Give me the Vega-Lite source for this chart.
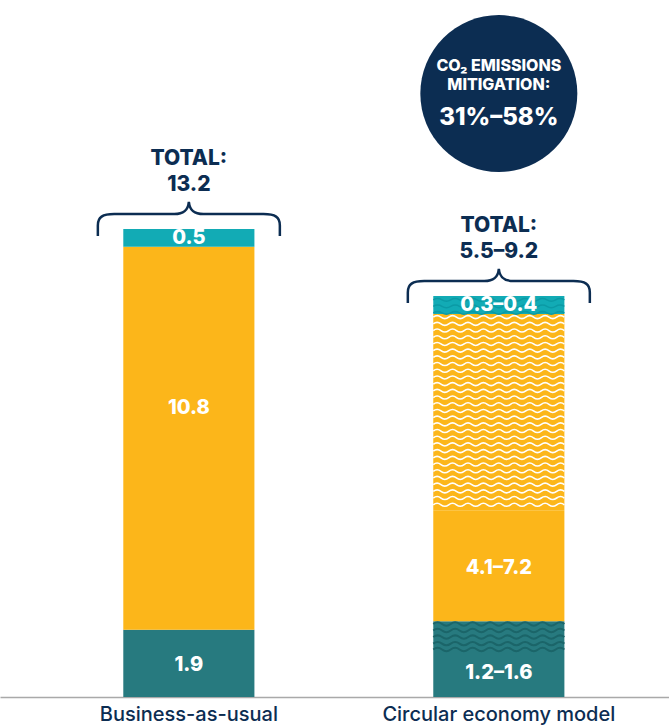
{
  "$schema": "https://vega.github.io/schema/vega-lite/v6.json",
  "width": 669,
  "height": 697,
  "autosize": {"type": "none"},
  "padding": {"left": 0, "top": 0, "right": 0, "bottom": 29},
  "background": "white",
  "config": {"view": {"stroke": null}, "font": "Inter"},
  "datasets": {
    "segments": [
      {"bar": "Business-as-usual", "kind": "dark", "y0": 0, "y1": 1.9, "label": "1.9", "labelAt": 0.9, "wave": null},
      {"bar": "Business-as-usual", "kind": "yellow", "y0": 1.9, "y1": 12.7, "label": "10.8", "labelAt": 8.15, "wave": null},
      {"bar": "Business-as-usual", "kind": "light", "y0": 12.7, "y1": 13.2, "label": "0.5", "labelAt": 12.95, "wave": null},
      {"bar": "Circular economy model", "kind": "dark", "y0": 0, "y1": 1.24, "label": "1.2–1.6", "labelAt": 0.68, "wave": null},
      {"bar": "Circular economy model", "kind": "dark", "y0": 1.24, "y1": 2.14, "label": null, "labelAt": null, "wave": "dark"},
      {"bar": "Circular economy model", "kind": "yellow", "y0": 2.14, "y1": 5.27, "label": "4.1–7.2", "labelAt": 3.64, "wave": null},
      {"bar": "Circular economy model", "kind": "yellow", "y0": 5.27, "y1": 10.8, "label": null, "labelAt": null, "wave": "yellow"},
      {"bar": "Circular economy model", "kind": "light", "y0": 10.8, "y1": 11.31, "label": "0.3–0.4", "labelAt": 11.06, "wave": "light"}
    ],
    "totals": [
      {"bar": "Business-as-usual", "top": 13.2, "total": "13.2"},
      {"bar": "Circular economy model", "top": 11.31, "total": "5.5–9.2"}
    ],
    "mitigation": [
      {"bar": "Circular economy model", "pos": 17.02, "heading": ["CO₂ EMISSIONS", "MITIGATION:"], "value": "31%–58%"}
    ]
  },
  "encoding": {
    "x": {
      "field": "bar",
      "type": "nominal",
      "sort": ["Business-as-usual", "Circular economy model"],
      "scale": {"domain": ["Business-as-usual", "Circular economy model"], "paddingInner": 0.577, "paddingOuter": 0.3676, "align": 0.541},
      "axis": {
        "title": null,
        "labelAngle": 0,
        "ticks": false,
        "domainColor": "#a9a9a9",
        "domainWidth": 1.5,
        "labelFont": "Inter",
        "labelFontSize": 20,
        "labelFontWeight": 500,
        "labelColor": "#0c2d52",
        "labelPadding": 7,
        "labelLimit": 400
      }
    }
  },
  "layer": [
    {
      "data": {"name": "segments"},
      "mark": {"type": "bar"},
      "encoding": {
        "y": {"field": "y1", "type": "quantitative", "scale": {"domain": [0, 19.66], "nice": false, "zero": true}, "axis": null},
        "y2": {"field": "y0"},
        "color": {"field": "kind", "type": "nominal", "scale": {"domain": ["dark", "yellow", "light"], "range": ["#277a7f", "#fcb61a", "#12abb5"]}, "legend": null}
      }
    },
    {
      "data": {"name": "segments"},
      "transform": [{"filter": "datum.wave == 'yellow'"}, {"calculate": "(datum.y0 + datum.y1) / 2", "as": "mid"}],
      "mark": {
        "type": "point",
        "filled": false,
        "opacity": 1,
        "stroke": "#ffffff",
        "strokeWidth": 1.6,
        "size": 17187,
        "shape": "M-1,-1.449 Q-0.9412,-1.495 -0.8824,-1.449 T-0.7647,-1.449 T-0.6471,-1.449 T-0.5294,-1.449 T-0.4118,-1.449 T-0.2941,-1.449 T-0.1765,-1.449 T-0.0588,-1.449 T0.0588,-1.449 T0.1765,-1.449 T0.2941,-1.449 T0.4118,-1.449 T0.5294,-1.449 T0.6471,-1.449 T0.7647,-1.449 T0.8824,-1.449 T1,-1.449 M-1,-1.347 Q-0.9412,-1.393 -0.8824,-1.347 T-0.7647,-1.347 T-0.6471,-1.347 T-0.5294,-1.347 T-0.4118,-1.347 T-0.2941,-1.347 T-0.1765,-1.347 T-0.0588,-1.347 T0.0588,-1.347 T0.1765,-1.347 T0.2941,-1.347 T0.4118,-1.347 T0.5294,-1.347 T0.6471,-1.347 T0.7647,-1.347 T0.8824,-1.347 T1,-1.347 M-1,-1.245 Q-0.9412,-1.291 -0.8824,-1.245 T-0.7647,-1.245 T-0.6471,-1.245 T-0.5294,-1.245 T-0.4118,-1.245 T-0.2941,-1.245 T-0.1765,-1.245 T-0.0588,-1.245 T0.0588,-1.245 T0.1765,-1.245 T0.2941,-1.245 T0.4118,-1.245 T0.5294,-1.245 T0.6471,-1.245 T0.7647,-1.245 T0.8824,-1.245 T1,-1.245 M-1,-1.142 Q-0.9412,-1.188 -0.8824,-1.142 T-0.7647,-1.142 T-0.6471,-1.142 T-0.5294,-1.142 T-0.4118,-1.142 T-0.2941,-1.142 T-0.1765,-1.142 T-0.0588,-1.142 T0.0588,-1.142 T0.1765,-1.142 T0.2941,-1.142 T0.4118,-1.142 T0.5294,-1.142 T0.6471,-1.142 T0.7647,-1.142 T0.8824,-1.142 T1,-1.142 M-1,-1.040 Q-0.9412,-1.086 -0.8824,-1.040 T-0.7647,-1.040 T-0.6471,-1.040 T-0.5294,-1.040 T-0.4118,-1.040 T-0.2941,-1.040 T-0.1765,-1.040 T-0.0588,-1.040 T0.0588,-1.040 T0.1765,-1.040 T0.2941,-1.040 T0.4118,-1.040 T0.5294,-1.040 T0.6471,-1.040 T0.7647,-1.040 T0.8824,-1.040 T1,-1.040 M-1,-0.938 Q-0.9412,-0.984 -0.8824,-0.938 T-0.7647,-0.938 T-0.6471,-0.938 T-0.5294,-0.938 T-0.4118,-0.938 T-0.2941,-0.938 T-0.1765,-0.938 T-0.0588,-0.938 T0.0588,-0.938 T0.1765,-0.938 T0.2941,-0.938 T0.4118,-0.938 T0.5294,-0.938 T0.6471,-0.938 T0.7647,-0.938 T0.8824,-0.938 T1,-0.938 M-1,-0.836 Q-0.9412,-0.882 -0.8824,-0.836 T-0.7647,-0.836 T-0.6471,-0.836 T-0.5294,-0.836 T-0.4118,-0.836 T-0.2941,-0.836 T-0.1765,-0.836 T-0.0588,-0.836 T0.0588,-0.836 T0.1765,-0.836 T0.2941,-0.836 T0.4118,-0.836 T0.5294,-0.836 T0.6471,-0.836 T0.7647,-0.836 T0.8824,-0.836 T1,-0.836 M-1,-0.734 Q-0.9412,-0.780 -0.8824,-0.734 T-0.7647,-0.734 T-0.6471,-0.734 T-0.5294,-0.734 T-0.4118,-0.734 T-0.2941,-0.734 T-0.1765,-0.734 T-0.0588,-0.734 T0.0588,-0.734 T0.1765,-0.734 T0.2941,-0.734 T0.4118,-0.734 T0.5294,-0.734 T0.6471,-0.734 T0.7647,-0.734 T0.8824,-0.734 T1,-0.734 M-1,-0.631 Q-0.9412,-0.677 -0.8824,-0.631 T-0.7647,-0.631 T-0.6471,-0.631 T-0.5294,-0.631 T-0.4118,-0.631 T-0.2941,-0.631 T-0.1765,-0.631 T-0.0588,-0.631 T0.0588,-0.631 T0.1765,-0.631 T0.2941,-0.631 T0.4118,-0.631 T0.5294,-0.631 T0.6471,-0.631 T0.7647,-0.631 T0.8824,-0.631 T1,-0.631 M-1,-0.529 Q-0.9412,-0.575 -0.8824,-0.529 T-0.7647,-0.529 T-0.6471,-0.529 T-0.5294,-0.529 T-0.4118,-0.529 T-0.2941,-0.529 T-0.1765,-0.529 T-0.0588,-0.529 T0.0588,-0.529 T0.1765,-0.529 T0.2941,-0.529 T0.4118,-0.529 T0.5294,-0.529 T0.6471,-0.529 T0.7647,-0.529 T0.8824,-0.529 T1,-0.529 M-1,-0.427 Q-0.9412,-0.473 -0.8824,-0.427 T-0.7647,-0.427 T-0.6471,-0.427 T-0.5294,-0.427 T-0.4118,-0.427 T-0.2941,-0.427 T-0.1765,-0.427 T-0.0588,-0.427 T0.0588,-0.427 T0.1765,-0.427 T0.2941,-0.427 T0.4118,-0.427 T0.5294,-0.427 T0.6471,-0.427 T0.7647,-0.427 T0.8824,-0.427 T1,-0.427 M-1,-0.325 Q-0.9412,-0.371 -0.8824,-0.325 T-0.7647,-0.325 T-0.6471,-0.325 T-0.5294,-0.325 T-0.4118,-0.325 T-0.2941,-0.325 T-0.1765,-0.325 T-0.0588,-0.325 T0.0588,-0.325 T0.1765,-0.325 T0.2941,-0.325 T0.4118,-0.325 T0.5294,-0.325 T0.6471,-0.325 T0.7647,-0.325 T0.8824,-0.325 T1,-0.325 M-1,-0.223 Q-0.9412,-0.269 -0.8824,-0.223 T-0.7647,-0.223 T-0.6471,-0.223 T-0.5294,-0.223 T-0.4118,-0.223 T-0.2941,-0.223 T-0.1765,-0.223 T-0.0588,-0.223 T0.0588,-0.223 T0.1765,-0.223 T0.2941,-0.223 T0.4118,-0.223 T0.5294,-0.223 T0.6471,-0.223 T0.7647,-0.223 T0.8824,-0.223 T1,-0.223 M-1,-0.120 Q-0.9412,-0.166 -0.8824,-0.120 T-0.7647,-0.120 T-0.6471,-0.120 T-0.5294,-0.120 T-0.4118,-0.120 T-0.2941,-0.120 T-0.1765,-0.120 T-0.0588,-0.120 T0.0588,-0.120 T0.1765,-0.120 T0.2941,-0.120 T0.4118,-0.120 T0.5294,-0.120 T0.6471,-0.120 T0.7647,-0.120 T0.8824,-0.120 T1,-0.120 M-1,-0.018 Q-0.9412,-0.064 -0.8824,-0.018 T-0.7647,-0.018 T-0.6471,-0.018 T-0.5294,-0.018 T-0.4118,-0.018 T-0.2941,-0.018 T-0.1765,-0.018 T-0.0588,-0.018 T0.0588,-0.018 T0.1765,-0.018 T0.2941,-0.018 T0.4118,-0.018 T0.5294,-0.018 T0.6471,-0.018 T0.7647,-0.018 T0.8824,-0.018 T1,-0.018 M-1,0.084 Q-0.9412,0.038 -0.8824,0.084 T-0.7647,0.084 T-0.6471,0.084 T-0.5294,0.084 T-0.4118,0.084 T-0.2941,0.084 T-0.1765,0.084 T-0.0588,0.084 T0.0588,0.084 T0.1765,0.084 T0.2941,0.084 T0.4118,0.084 T0.5294,0.084 T0.6471,0.084 T0.7647,0.084 T0.8824,0.084 T1,0.084 M-1,0.186 Q-0.9412,0.140 -0.8824,0.186 T-0.7647,0.186 T-0.6471,0.186 T-0.5294,0.186 T-0.4118,0.186 T-0.2941,0.186 T-0.1765,0.186 T-0.0588,0.186 T0.0588,0.186 T0.1765,0.186 T0.2941,0.186 T0.4118,0.186 T0.5294,0.186 T0.6471,0.186 T0.7647,0.186 T0.8824,0.186 T1,0.186 M-1,0.288 Q-0.9412,0.242 -0.8824,0.288 T-0.7647,0.288 T-0.6471,0.288 T-0.5294,0.288 T-0.4118,0.288 T-0.2941,0.288 T-0.1765,0.288 T-0.0588,0.288 T0.0588,0.288 T0.1765,0.288 T0.2941,0.288 T0.4118,0.288 T0.5294,0.288 T0.6471,0.288 T0.7647,0.288 T0.8824,0.288 T1,0.288 M-1,0.391 Q-0.9412,0.345 -0.8824,0.391 T-0.7647,0.391 T-0.6471,0.391 T-0.5294,0.391 T-0.4118,0.391 T-0.2941,0.391 T-0.1765,0.391 T-0.0588,0.391 T0.0588,0.391 T0.1765,0.391 T0.2941,0.391 T0.4118,0.391 T0.5294,0.391 T0.6471,0.391 T0.7647,0.391 T0.8824,0.391 T1,0.391 M-1,0.493 Q-0.9412,0.447 -0.8824,0.493 T-0.7647,0.493 T-0.6471,0.493 T-0.5294,0.493 T-0.4118,0.493 T-0.2941,0.493 T-0.1765,0.493 T-0.0588,0.493 T0.0588,0.493 T0.1765,0.493 T0.2941,0.493 T0.4118,0.493 T0.5294,0.493 T0.6471,0.493 T0.7647,0.493 T0.8824,0.493 T1,0.493 M-1,0.595 Q-0.9412,0.549 -0.8824,0.595 T-0.7647,0.595 T-0.6471,0.595 T-0.5294,0.595 T-0.4118,0.595 T-0.2941,0.595 T-0.1765,0.595 T-0.0588,0.595 T0.0588,0.595 T0.1765,0.595 T0.2941,0.595 T0.4118,0.595 T0.5294,0.595 T0.6471,0.595 T0.7647,0.595 T0.8824,0.595 T1,0.595 M-1,0.697 Q-0.9412,0.651 -0.8824,0.697 T-0.7647,0.697 T-0.6471,0.697 T-0.5294,0.697 T-0.4118,0.697 T-0.2941,0.697 T-0.1765,0.697 T-0.0588,0.697 T0.0588,0.697 T0.1765,0.697 T0.2941,0.697 T0.4118,0.697 T0.5294,0.697 T0.6471,0.697 T0.7647,0.697 T0.8824,0.697 T1,0.697 M-1,0.799 Q-0.9412,0.753 -0.8824,0.799 T-0.7647,0.799 T-0.6471,0.799 T-0.5294,0.799 T-0.4118,0.799 T-0.2941,0.799 T-0.1765,0.799 T-0.0588,0.799 T0.0588,0.799 T0.1765,0.799 T0.2941,0.799 T0.4118,0.799 T0.5294,0.799 T0.6471,0.799 T0.7647,0.799 T0.8824,0.799 T1,0.799 M-1,0.902 Q-0.9412,0.856 -0.8824,0.902 T-0.7647,0.902 T-0.6471,0.902 T-0.5294,0.902 T-0.4118,0.902 T-0.2941,0.902 T-0.1765,0.902 T-0.0588,0.902 T0.0588,0.902 T0.1765,0.902 T0.2941,0.902 T0.4118,0.902 T0.5294,0.902 T0.6471,0.902 T0.7647,0.902 T0.8824,0.902 T1,0.902 M-1,1.004 Q-0.9412,0.958 -0.8824,1.004 T-0.7647,1.004 T-0.6471,1.004 T-0.5294,1.004 T-0.4118,1.004 T-0.2941,1.004 T-0.1765,1.004 T-0.0588,1.004 T0.0588,1.004 T0.1765,1.004 T0.2941,1.004 T0.4118,1.004 T0.5294,1.004 T0.6471,1.004 T0.7647,1.004 T0.8824,1.004 T1,1.004 M-1,1.106 Q-0.9412,1.060 -0.8824,1.106 T-0.7647,1.106 T-0.6471,1.106 T-0.5294,1.106 T-0.4118,1.106 T-0.2941,1.106 T-0.1765,1.106 T-0.0588,1.106 T0.0588,1.106 T0.1765,1.106 T0.2941,1.106 T0.4118,1.106 T0.5294,1.106 T0.6471,1.106 T0.7647,1.106 T0.8824,1.106 T1,1.106 M-1,1.208 Q-0.9412,1.162 -0.8824,1.208 T-0.7647,1.208 T-0.6471,1.208 T-0.5294,1.208 T-0.4118,1.208 T-0.2941,1.208 T-0.1765,1.208 T-0.0588,1.208 T0.0588,1.208 T0.1765,1.208 T0.2941,1.208 T0.4118,1.208 T0.5294,1.208 T0.6471,1.208 T0.7647,1.208 T0.8824,1.208 T1,1.208 M-1,1.310 Q-0.9412,1.264 -0.8824,1.310 T-0.7647,1.310 T-0.6471,1.310 T-0.5294,1.310 T-0.4118,1.310 T-0.2941,1.310 T-0.1765,1.310 T-0.0588,1.310 T0.0588,1.310 T0.1765,1.310 T0.2941,1.310 T0.4118,1.310 T0.5294,1.310 T0.6471,1.310 T0.7647,1.310 T0.8824,1.310 T1,1.310 M-1,1.413 Q-0.9412,1.367 -0.8824,1.413 T-0.7647,1.413 T-0.6471,1.413 T-0.5294,1.413 T-0.4118,1.413 T-0.2941,1.413 T-0.1765,1.413 T-0.0588,1.413 T0.0588,1.413 T0.1765,1.413 T0.2941,1.413 T0.4118,1.413 T0.5294,1.413 T0.6471,1.413 T0.7647,1.413 T0.8824,1.413 T1,1.413"
      },
      "encoding": {
        "y": {"field": "mid", "type": "quantitative", "axis": null}
      }
    },
    {
      "data": {"name": "segments"},
      "transform": [{"filter": "datum.wave == 'dark'"}, {"calculate": "(datum.y0 + datum.y1) / 2", "as": "mid"}],
      "mark": {
        "type": "point",
        "filled": false,
        "opacity": 1,
        "stroke": "#1b6569",
        "strokeWidth": 2,
        "size": 17187,
        "shape": "M-1,-0.2 Q-0.9333,-0.252 -0.8667,-0.2 T-0.7333,-0.2 T-0.6,-0.2 T-0.4667,-0.2 T-0.3333,-0.2 T-0.2,-0.2 T-0.0667,-0.2 T0.0667,-0.2 T0.2,-0.2 T0.3333,-0.2 T0.4667,-0.2 T0.6,-0.2 T0.7333,-0.2 T0.8667,-0.2 T1,-0.2 M-1,-0.1 Q-0.9333,-0.152 -0.8667,-0.1 T-0.7333,-0.1 T-0.6,-0.1 T-0.4667,-0.1 T-0.3333,-0.1 T-0.2,-0.1 T-0.0667,-0.1 T0.0667,-0.1 T0.2,-0.1 T0.3333,-0.1 T0.4667,-0.1 T0.6,-0.1 T0.7333,-0.1 T0.8667,-0.1 T1,-0.1 M-1,0 Q-0.9333,-0.052 -0.8667,0 T-0.7333,0 T-0.6,0 T-0.4667,0 T-0.3333,0 T-0.2,0 T-0.0667,0 T0.0667,0 T0.2,0 T0.3333,0 T0.4667,0 T0.6,0 T0.7333,0 T0.8667,0 T1,0 M-1,0.1 Q-0.9333,0.048 -0.8667,0.1 T-0.7333,0.1 T-0.6,0.1 T-0.4667,0.1 T-0.3333,0.1 T-0.2,0.1 T-0.0667,0.1 T0.0667,0.1 T0.2,0.1 T0.3333,0.1 T0.4667,0.1 T0.6,0.1 T0.7333,0.1 T0.8667,0.1 T1,0.1 M-1,0.19 Q-0.9333,0.138 -0.8667,0.19 T-0.7333,0.19 T-0.6,0.19 T-0.4667,0.19 T-0.3333,0.19 T-0.2,0.19 T-0.0667,0.19 T0.0667,0.19 T0.2,0.19 T0.3333,0.19 T0.4667,0.19 T0.6,0.19 T0.7333,0.19 T0.8667,0.19 T1,0.19"
      },
      "encoding": {
        "y": {"field": "mid", "type": "quantitative", "axis": null}
      }
    },
    {
      "data": {"name": "segments"},
      "transform": [{"filter": "datum.wave == 'light'"}, {"calculate": "(datum.y0 + datum.y1) / 2", "as": "mid"}],
      "mark": {
        "type": "point",
        "filled": false,
        "opacity": 1,
        "stroke": "#0b9aa5",
        "strokeWidth": 1.5,
        "size": 17187,
        "shape": "M-1,-0.08 Q-0.9333,-0.12 -0.8667,-0.08 T-0.7333,-0.08 T-0.6,-0.08 T-0.4667,-0.08 T-0.3333,-0.08 T-0.2,-0.08 T-0.0667,-0.08 T0.0667,-0.08 T0.2,-0.08 T0.3333,-0.08 T0.4667,-0.08 T0.6,-0.08 T0.7333,-0.08 T0.8667,-0.08 T1,-0.08 M-1,0.02 Q-0.9333,-0.02 -0.8667,0.02 T-0.7333,0.02 T-0.6,0.02 T-0.4667,0.02 T-0.3333,0.02 T-0.2,0.02 T-0.0667,0.02 T0.0667,0.02 T0.2,0.02 T0.3333,0.02 T0.4667,0.02 T0.6,0.02 T0.7333,0.02 T0.8667,0.02 T1,0.02 M-1,0.12 Q-0.9333,0.08 -0.8667,0.12 T-0.7333,0.12 T-0.6,0.12 T-0.4667,0.12 T-0.3333,0.12 T-0.2,0.12 T-0.0667,0.12 T0.0667,0.12 T0.2,0.12 T0.3333,0.12 T0.4667,0.12 T0.6,0.12 T0.7333,0.12 T0.8667,0.12 T1,0.12"
      },
      "encoding": {
        "y": {"field": "mid", "type": "quantitative", "axis": null}
      }
    },
    {
      "data": {"name": "segments"},
      "transform": [{"filter": "datum.label != null"}],
      "mark": {"type": "text", "color": "#ffffff", "font": "Inter", "fontSize": 20, "fontWeight": 800, "baseline": "middle", "align": "center"},
      "encoding": {
        "y": {"field": "labelAt", "type": "quantitative", "axis": null},
        "text": {"field": "label"}
      }
    },
    {
      "data": {"name": "totals"},
      "mark": {
        "type": "point",
        "filled": false,
        "opacity": 1,
        "stroke": "#0c2d52",
        "strokeWidth": 2.5,
        "size": 33124,
        "shape": "M-1,0.077 L-1,-0.04 C-1,-0.13 -0.95,-0.165 -0.82,-0.165 L-0.16,-0.165 C-0.06,-0.165 -0.01,-0.2 0,-0.297 C0.01,-0.2 0.06,-0.165 0.16,-0.165 L0.82,-0.165 C0.95,-0.165 1,-0.13 1,-0.04 L1,0.077"
      },
      "encoding": {
        "y": {"field": "top", "type": "quantitative", "axis": null}
      }
    },
    {
      "data": {"name": "totals"},
      "mark": {"type": "text", "color": "#0c2d52", "font": "Inter", "fontSize": 21, "fontWeight": 800, "baseline": "middle", "align": "center", "dy": -70},
      "encoding": {
        "y": {"field": "top", "type": "quantitative", "axis": null},
        "text": {"value": "TOTAL:"}
      }
    },
    {
      "data": {"name": "totals"},
      "mark": {"type": "text", "color": "#0c2d52", "font": "Inter", "fontSize": 21, "fontWeight": 800, "baseline": "middle", "align": "center", "dy": -44},
      "encoding": {
        "y": {"field": "top", "type": "quantitative", "axis": null},
        "text": {"field": "total"}
      }
    },
    {
      "data": {"name": "mitigation"},
      "mark": {"type": "point", "shape": "circle", "filled": true, "opacity": 1, "color": "#0c2d52", "size": 24649},
      "encoding": {
        "y": {"field": "pos", "type": "quantitative", "axis": null}
      }
    },
    {
      "data": {"name": "mitigation"},
      "mark": {"type": "text", "color": "#ffffff", "font": "Inter", "fontSize": 16, "fontWeight": 800, "baseline": "middle", "align": "center", "lineHeight": 19.5, "dy": -28},
      "encoding": {
        "y": {"field": "pos", "type": "quantitative", "axis": null},
        "text": {"field": "heading"}
      }
    },
    {
      "data": {"name": "mitigation"},
      "mark": {"type": "text", "color": "#ffffff", "font": "Inter", "fontSize": 24, "fontWeight": 800, "baseline": "middle", "align": "center", "dy": 24.5},
      "encoding": {
        "y": {"field": "pos", "type": "quantitative", "axis": null},
        "text": {"field": "value"}
      }
    }
  ]
}
